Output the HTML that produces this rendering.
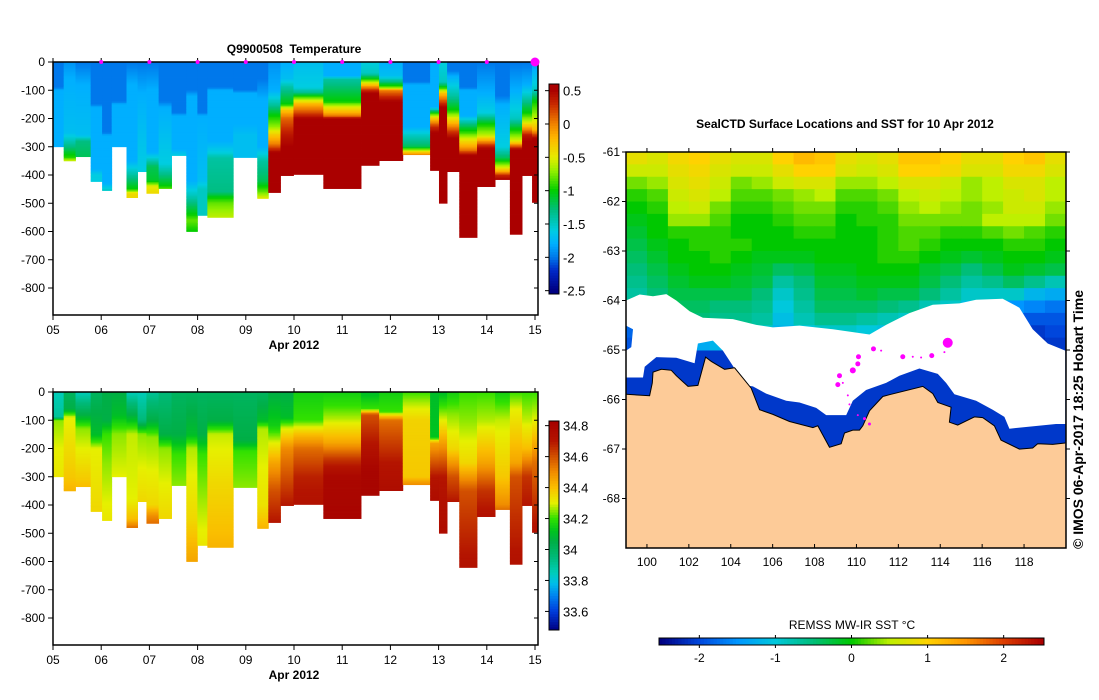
<!DOCTYPE html>
<html><head><meta charset="utf-8"><style>
html,body{margin:0;padding:0;background:#fff;}
svg{display:block;font-family:"Liberation Sans",sans-serif;}
</style></head><body>
<svg id="root" width="1099" height="700" viewBox="0 0 1099 700" xmlns="http://www.w3.org/2000/svg">
<rect width="1099" height="700" fill="#fff"/>
<g id="tempPlot"></g>
<g id="salPlot"></g>
<g id="mapPlot"></g>
</svg>
<script>
// ---------- section data ----------
const colEdges=[0,0.222,0.467,0.782,1.019,1.218,1.525,1.755,1.939,2.192,2.460,2.766,2.996,3.203,3.739,4.238,4.467,4.720,4.989,5.609,6.391,6.766,7.257,7.824,8.008,8.176,8.429,8.797,9.172,9.479,9.732,9.939,10.06];
const depthMax=[300,350,335,423,455,300,480,388,465,448,331,600,543,550,338,483,462,402,398,448,366,349,328,384,500,388,621,441,416,610,402,497];
const tempProfiles=[
[[0,-2.0],[90,-2.0],[100,-1.8],[300,-1.8]],
[[0,-1.9],[60,-1.8],[250,-1.7],[300,-1.3],[340,-0.9],[350,-0.5]],
[[0,-2.0],[80,-1.8],[260,-1.7],[280,-1.3],[335,-1.2]],
[[0,-2.0],[150,-2.0],[160,-1.8],[380,-1.8],[400,-1.6],[423,-1.6]],
[[0,-2.0],[250,-2.0],[260,-1.8],[430,-1.8],[455,-1.5]],
[[0,-2.0],[140,-2.0],[150,-1.8],[300,-1.8]],
[[0,-2.0],[80,-1.8],[350,-1.8],[400,-1.4],[450,-1.0],[465,-0.4],[480,-0.4]],
[[0,-2.0],[110,-1.8],[388,-1.6]],
[[0,-2.0],[100,-1.8],[320,-1.8],[370,-1.2],[420,-1.1],[440,-0.5],[465,-0.4]],
[[0,-2.0],[140,-2.0],[160,-1.8],[360,-1.6],[440,-1.0],[448,-0.8]],
[[0,-2.0],[180,-2.0],[190,-1.8],[310,-1.8],[331,-1.6]],
[[0,-2.0],[100,-2.0],[120,-1.8],[420,-1.8],[470,-1.5],[540,-1.0],[560,-0.8],[600,-1.0]],
[[0,-2.0],[180,-2.0],[190,-1.8],[420,-1.7],[450,-1.5],[543,-1.5]],
[[0,-2.0],[90,-2.0],[100,-1.8],[280,-1.8],[320,-1.6],[340,-1.4],[460,-1.3],[480,-1.0],[500,-0.8],[550,-0.6]],
[[0,-2.0],[100,-2.0],[110,-1.8],[220,-1.8],[260,-1.7],[338,-1.7]],
[[0,-2.0],[60,-2.0],[130,-1.8],[300,-1.8],[350,-1.4],[420,-1.2],[460,-0.8],[483,-0.5]],
[[0,-1.9],[100,-1.8],[150,-1.4],[190,-1.0],[230,-0.7],[260,-0.3],[290,0.0],[320,0.5]],
[[0,-1.8],[60,-1.7],[90,-1.4],[150,-1.0],[170,-0.3],[200,0.1],[260,0.4],[300,0.5]],
[[0,-1.7],[90,-1.6],[110,-1.3],[130,-0.7],[150,-0.2],[180,0.2],[200,0.5]],
[[0,-1.8],[50,-1.8],[60,-1.4],[140,-1.0],[160,-0.5],[190,0.0],[200,0.5]],
[[0,-1.6],[40,-1.5],[60,-1.0],[80,-0.3],[100,0.3],[110,0.5]],
[[0,-1.8],[50,-1.7],[70,-1.3],[90,-0.8],[100,0.0],[130,0.4],[140,0.5]],
[[0,-2.0],[70,-2.0],[80,-1.8],[230,-1.8],[260,-1.5],[300,-1.2],[320,-0.3],[328,0.0]],
[[0,-1.8],[160,-1.8],[180,-1.0],[200,-0.3],[230,0.3],[250,0.5]],
[[0,-1.6],[70,-1.5],[90,-1.0],[110,-0.3],[140,0.2],[160,0.5]],
[[0,-2.0],[30,-2.0],[50,-1.8],[120,-1.4],[170,-1.0],[210,-0.3],[250,0.3],[270,0.5]],
[[0,-2.0],[90,-2.0],[100,-1.8],[190,-1.8],[220,-1.3],[250,-0.9],[280,-0.4],[310,0.0],[330,0.5]],
[[0,-2.0],[110,-1.8],[180,-1.6],[220,-1.0],[260,-0.6],[280,-0.1],[300,0.4],[310,0.5]],
[[0,-2.0],[120,-2.0],[150,-1.8],[300,-1.6],[340,-1.2],[370,-0.6],[390,-0.1],[400,0.3],[416,0.5]],
[[0,-2.0],[100,-1.8],[200,-1.5],[240,-1.0],[280,-0.5],[300,0.2],[310,0.5]],
[[0,-2.0],[80,-1.8],[120,-1.5],[180,-1.0],[210,-0.6],[230,-0.2],[260,0.4],[280,0.5]],
[[0,-1.9],[100,-1.5],[140,-1.0],[200,-0.6],[240,-0.2],[270,0.5]]];
const salProfiles=[
[[0,33.85],[90,33.9],[100,34.25],[200,34.3],[300,34.32]],
[[0,34.0],[60,34.05],[90,34.3],[300,34.38],[350,34.42]],
[[0,33.85],[80,34.05],[130,34.25],[300,34.37],[335,34.4]],
[[0,34.0],[150,34.1],[200,34.3],[423,34.35]],
[[0,34.05],[100,34.05],[150,34.2],[250,34.25],[455,34.32]],
[[0,34.05],[80,34.1],[150,34.25],[300,34.3]],
[[0,33.85],[80,34.05],[150,34.28],[380,34.3],[450,34.4],[480,34.55]],
[[0,33.85],[100,33.95],[150,34.25],[388,34.35]],
[[0,33.9],[100,34.05],[160,34.25],[400,34.35],[440,34.5],[465,34.55]],
[[0,33.95],[150,34.05],[200,34.25],[448,34.35]],
[[0,34.0],[150,34.05],[220,34.2],[331,34.25]],
[[0,34.0],[150,34.1],[200,34.27],[450,34.35],[550,34.42],[600,34.45]],
[[0,34.0],[150,34.05],[220,34.2],[543,34.32]],
[[0,34.0],[100,34.05],[150,34.28],[330,34.35],[500,34.4],[550,34.42]],
[[0,34.0],[170,34.05],[210,34.2],[338,34.25]],
[[0,34.0],[100,34.1],[130,34.27],[400,34.33],[483,34.42]],
[[0,34.05],[120,34.15],[180,34.3],[250,34.45],[350,34.6],[462,34.7]],
[[0,34.05],[90,34.1],[130,34.3],[200,34.5],[300,34.6],[402,34.7]],
[[0,34.15],[100,34.2],[150,34.4],[200,34.55],[300,34.68],[398,34.72]],
[[0,34.15],[50,34.2],[100,34.28],[180,34.45],[240,34.65],[300,34.78],[448,34.8]],
[[0,34.1],[60,34.2],[80,34.6],[200,34.72],[280,34.8],[366,34.8]],
[[0,34.15],[70,34.2],[100,34.55],[250,34.7],[349,34.75]],
[[0,34.2],[40,34.27],[100,34.36],[300,34.38],[328,34.5]],
[[0,34.1],[160,34.12],[180,34.45],[300,34.7],[384,34.75]],
[[0,34.1],[100,34.3],[300,34.7],[500,34.75]],
[[0,34.15],[80,34.25],[200,34.35],[300,34.6],[388,34.7]],
[[0,34.2],[100,34.25],[250,34.35],[350,34.6],[621,34.72]],
[[0,34.2],[100,34.27],[250,34.45],[350,34.65],[441,34.72]],
[[0,34.15],[100,34.28],[300,34.38],[400,34.5],[416,34.55]],
[[0,34.2],[60,34.3],[250,34.45],[300,34.6],[610,34.72]],
[[0,34.2],[100,34.28],[200,34.4],[300,34.65],[402,34.7]],
[[0,34.2],[100,34.3],[250,34.55],[497,34.72]]];
const dayTickLabels=["05","06","07","08","09","10","11","12","13","14","15"];
const depthTicks=[0,-100,-200,-300,-400,-500,-600,-700,-800];
const surfaceDays=[1,2,3,4,5,6,7,8,9];
const tempBarTicks=[0.5,0,-0.5,-1,-1.5,-2,-2.5];
const salBarTicks=[34.8,34.6,34.4,34.2,34,33.8,33.6];
// ---------- map data ----------
const sstLats=[-61,-61.25,-61.5,-61.75,-62,-62.25,-62.5,-62.75,-63,-63.25,-63.5,-63.75,-64,-64.25,-64.5,-64.75];
const sstLons=[99,100,101,102,103,104,105,106,107,108,109,110,111,112,113,114,115,116,117,118,119];
const sstGrid=[
[0.8,0.7,0.9,1.0,0.8,0.7,0.7,1.0,1.2,1.1,0.8,0.7,0.8,1.1,1.1,1.0,0.8,0.8,1.0,1.1,0.8],
[0.6,0.6,0.8,0.9,0.7,0.6,0.6,0.8,1.0,1.0,0.7,0.6,0.7,1.0,1.0,0.9,0.7,0.7,0.9,0.9,0.7],
[0.3,0.4,0.7,0.8,0.6,0.3,0.4,0.6,0.7,0.7,0.4,0.4,0.5,0.7,0.7,0.6,0.4,0.5,0.7,0.7,0.5],
[0.1,0.2,0.6,0.7,0.5,0.2,0.2,0.3,0.4,0.5,0.2,0.2,0.3,0.5,0.6,0.5,0.4,0.5,0.6,0.7,0.5],
[0.0,0.1,0.5,0.6,0.3,0.1,0.1,0.2,0.3,0.3,0.1,0.1,0.2,0.4,0.5,0.4,0.3,0.4,0.6,0.6,0.4],
[-0.1,0.0,0.4,0.4,0.2,0.0,0.0,0.1,0.2,0.2,0.0,0.1,0.1,0.3,0.3,0.3,0.3,0.5,0.5,0.5,0.3],
[-0.2,0.0,0.1,0.1,0.1,0.0,0.0,0.0,0.1,0.1,0.0,0.0,0.1,0.2,0.2,0.1,0.1,0.2,0.3,0.2,0.1],
[-0.3,-0.1,0.0,0.1,0.1,0.1,0.0,0.0,0.0,0.0,0.0,0.0,0.1,0.2,0.1,0.0,0.0,0.0,0.1,0.1,0.0],
[-0.4,-0.2,0.0,0.0,0.1,0.0,-0.1,-0.1,-0.1,0.0,0.0,0.0,0.1,0.1,0.0,-0.1,-0.2,-0.1,0.0,0.0,-0.1],
[-0.5,-0.3,-0.1,0.0,0.0,-0.1,-0.2,-0.4,-0.3,-0.1,-0.1,0.0,0.0,0.0,-0.2,-0.3,-0.5,-0.3,-0.1,-0.2,-0.3],
[-0.6,-0.4,-0.2,-0.1,-0.1,-0.2,-0.3,-0.7,-0.5,-0.2,-0.2,-0.1,-0.1,-0.1,-0.3,-0.5,-0.7,-0.6,-0.4,-0.6,-0.8],
[-0.7,-0.5,-0.3,-0.3,-0.3,-0.3,-0.5,-0.9,-0.6,-0.3,-0.3,-0.2,-0.3,-0.3,-0.5,-0.7,-0.9,-0.9,-0.9,-1.2,-1.3],
[-0.8,-0.6,-0.4,-0.4,-0.5,-0.5,-0.6,-1.0,-0.7,-0.4,-0.4,-0.4,-0.5,-0.6,-0.8,-0.9,-1.1,-1.3,-1.5,-1.6,-1.7],
[-1.3,-0.9,-0.6,-0.5,-0.6,-0.6,-0.7,-1.1,-0.8,-0.6,-0.6,-0.7,-0.8,-0.9,-1.0,-1.2,-1.5,-1.7,-1.8,-1.9,-1.9],
[-1.8,-1.5,-1.0,-0.8,-0.8,-0.8,-0.9,-1.2,-1.0,-0.9,-0.9,-1.0,-1.1,-1.2,-1.3,-1.5,-1.8,-1.9,-2.0,-2.1,-2.0],
[-1.9,-1.8,-1.5,-1.3,-1.2,-1.2,-1.3,-1.4,-1.3,-1.2,-1.2,-1.3,-1.5,-1.6,-1.7,-1.8,-2.0,-2.1,-2.1,-2.2,-2.1]];
const polynyaSST=-2.1;
const lonTicks=[100,102,104,106,108,110,112,114,116,118];
const latTicks=[-61,-62,-63,-64,-65,-66,-67,-68];
const sstBarTicks=[-2,-1,0,1,2];
const coastRef=[[79,822],[150,826],[158,790],[160,760],[185,752],[215,755],[230,770],[265,800],[295,797],[318,718],[335,730],[375,752],[405,748],[455,805],[480,865],[520,878],[570,898],[640,915],[655,910],[690,970],[725,960],[735,930],[760,922],[780,922],[790,910],[810,868],[850,828],[870,823],[970,800],[1000,820],[1015,845],[1055,858],[1050,900],[1075,908],[1125,885],[1150,887],[1185,910],[1205,950],[1260,975],[1300,972],[1315,960],[1360,962],[1398,958]];
const iceRef=[[79,560],[120,543],[160,548],[200,542],[230,560],[270,590],[310,608],[400,612],[470,628],[520,635],[600,630],[700,640],[810,655],[860,628],[930,595],[1000,572],[1080,568],[1130,558],[1210,555],[1260,580],[1300,640],[1345,680],[1398,700],[1398,905],[1370,905],[1230,918],[1215,885],[1180,865],[1130,840],[1065,822],[1040,790],[1015,765],[960,750],[900,770],[860,790],[800,810],[760,840],[740,880],[680,880],[650,860],[600,845],[560,840],[500,820],[460,800],[420,795],[405,750],[370,700],[340,672],[295,680],[285,735],[230,720],[170,718],[135,745],[130,775],[79,775],[79,700],[95,690],[100,640],[79,630]];
const trackRef=[[1045,678],[822,695],[777,717],[775,737],[760,755],[720,770],[715,795],[910,717],[997,714],[940,717],[965,719],[1035,704],[845,700],[730,790],[745,825],[750,850],[775,880],[795,890],[810,905]];
const trackSize=[5,2.5,2.5,2.5,3,2.5,2.5,2.5,2.5,1,1,1,1,1,1,1,1,1.5,1.5];

// ---------- helpers ----------
const NS="http://www.w3.org/2000/svg";
function mk(tag,parent,attrs){const e=document.createElementNS(NS,tag);for(const k in attrs)e.setAttribute(k,attrs[k]);parent.appendChild(e);return e;}
function interp(knots,d){if(d<=knots[0][0])return knots[0][1];for(let i=1;i<knots.length;i++){if(d<=knots[i][0]){const a=knots[i-1],b=knots[i];return a[1]+(b[1]-a[1])*(d-a[0])/(b[0]-a[0]);}}return knots[knots.length-1][1];}
function colorOf(stops,v){if(v<=stops[0][0])return rgb(stops[0][1]);for(let i=1;i<stops.length;i++){if(v<=stops[i][0]){const a=stops[i-1],b=stops[i],t=(v-a[0])/(b[0]-a[0]);return rgb(a[1].map((c,j)=>c+(b[1][j]-c)*t));}}return rgb(stops[stops.length-1][1]);}
function rgb(c){return "rgb("+c.map(x=>Math.round(x)).join(",")+")";}
const tStops=[[-2.5,[0,0,130]],[-2.2,[0,40,200]],[-2.0,[0,120,235]],[-1.8,[0,175,255]],[-1.6,[0,205,225]],[-1.3,[0,190,130]],[-1.0,[0,205,0]],[-0.7,[150,240,0]],[-0.5,[230,235,0]],[-0.2,[255,180,0]],[0,[240,130,0]],[0.3,[200,40,0]],[0.5,[170,0,0]]];
const sStops=[[33.48,[0,0,130]],[33.6,[0,60,220]],[33.7,[0,130,240]],[33.78,[0,190,235]],[33.85,[0,205,185]],[33.95,[0,185,120]],[34.05,[0,175,70]],[34.12,[0,195,30]],[34.2,[50,225,0]],[34.3,[230,240,0]],[34.4,[250,190,0]],[34.5,[240,140,0]],[34.6,[210,80,0]],[34.7,[180,20,0]],[34.83,[165,0,0]]];
const mStops=[[-2.5,[0,0,130]],[-2.0,[0,70,220]],[-1.5,[0,150,255]],[-1.0,[0,200,220]],[-0.5,[0,190,120]],[0,[0,200,0]],[0.5,[190,240,0]],[1.0,[255,210,0]],[1.5,[255,150,0]],[2.0,[220,60,0]],[2.5,[170,0,0]]];

function section(g,y0,profiles,stops,barTop,barBot,barMax,barMin,barTicks,title){
  const L=53,R=538,B=y0+253;
  const xS=d=>L+d*48.2, yS=dep=>y0+dep*0.2825;
  const cells=mk('g',g,{});
  
  
  for(let i=0;i<profiles.length;i++){
    const x0=xS(colEdges[i]),x1=xS(colEdges[i+1]);
    for(let d=0;d<depthMax[i];d+=5){
      const h=Math.min(5,depthMax[i]-d);
      const r=mk('rect',cells,{x:x0,y:yS(d),width:x1-x0+0.4,height:h*0.2825+0.4,fill:colorOf(stops,interp(profiles[i],d+h/2))});
      
      
    }
  }
  const fr=mk('rect',g,{x:L,y:y0,width:R-L,height:B-y0,fill:'none',stroke:'#000','stroke-width':1.5});
  
  
  depthTicks.forEach(t=>{const y=yS(-t);
    mk('line',g,{x1:L-5,x2:L,y1:y,y2:y,stroke:'#000'});
    mk('line',g,{x1:R,x2:R-4,y1:y,y2:y,stroke:'#000'});
    const tx=mk('text',g,{x:L-8,y:y+4,'text-anchor':'end','font-size':12});tx.textContent=t;
    
    });
  dayTickLabels.forEach((lab,i)=>{const x=xS(i);
    mk('line',g,{x1:x,x2:x,y1:B,y2:B+5,stroke:'#000'});
    mk('line',g,{x1:x,x2:x,y1:y0,y2:y0-4,stroke:'#000'});
    const tx=mk('text',g,{x:x,y:B+19,'text-anchor':'middle','font-size':12});tx.textContent=lab;
    
    });
  const xl=mk('text',g,{x:294,y:B+34,'text-anchor':'middle','font-size':12,'font-weight':'bold'});xl.textContent='Apr 2012';
  
  
  if(title){const tt=mk('text',g,{x:294,y:y0-9,'text-anchor':'middle','font-size':12,'font-weight':'bold'});tt.textContent=title;
    
    
    surfaceDays.forEach(d=>{const c=mk('circle',g,{cx:xS(d),cy:y0,r:2,fill:'#f0f'});
      
      });
    const c=mk('circle',g,{cx:xS(10),cy:y0,r:4.5,fill:'#f0f'});
    
    }
  const cb=mk('g',g,{});
  
  
  const bx=549,bw=10,n=80;
  const yv=v=>barTop+(barMax-v)/(barMax-barMin)*(barBot-barTop);
  for(let k=0;k<n;k++){const v0=barMax-(barMax-barMin)*k/n,v1=barMax-(barMax-barMin)*(k+1)/n;
    mk('rect',cb,{x:bx,y:yv(v0),width:bw,height:yv(v1)-yv(v0)+0.5,fill:colorOf(stops,(v0+v1)/2)});}
  mk('rect',cb,{x:bx,y:barTop,width:bw,height:barBot-barTop,fill:'none',stroke:'#000'});
  barTicks.forEach(t=>{const y=yv(t);
    mk('line',cb,{x1:bx-4,x2:bx,y1:y,y2:y,stroke:'#000'});
    const tx=mk('text',cb,{x:bx+14,y:y+5,'font-size':13});tx.textContent=t;
    
    });
}
section(document.getElementById('tempPlot'),62,tempProfiles,tStops,84,294,0.6,-2.55,tempBarTicks,'Q9900508\u00a0\u00a0Temperature');
section(document.getElementById('salPlot'),392,salProfiles,sStops,421,630,34.83,33.48,salBarTicks,null);

// ---------- map ----------
(function(){
  const g=document.getElementById('mapPlot');
  const L=626,R=1066,T=152,B=548;
  const mx=lon=>L+(lon-99)*20.95, my=lat=>T+(-61-lat)*49.5;
  const fromRef=p=>[99+(p[0]-79)/62.9,-61-(p[1]-145)/138.3];
  const clip=mk('clipPath',g,{id:'mapclip'});mk('rect',clip,{x:L,y:T,width:R-L,height:B-T});
  const inner=mk('g',g,{'clip-path':'url(#mapclip)'});
  const bg=mk('rect',inner,{x:L,y:T,width:R-L,height:B-T,fill:colorOf(mStops,polynyaSST)});
  
  
  sstGrid.forEach((row,i)=>row.forEach((v,j)=>{
    const r=mk('rect',inner,{x:mx(sstLons[j]),y:my(sstLats[i]),width:20.95+0.5,height:0.25*49.5+0.5,fill:colorOf(mStops,v)});
    
    }));
  const pts=a=>a.map(p=>{const q=fromRef(p);return mx(q[0]).toFixed(1)+','+my(q[1]).toFixed(1);}).join(' ');
  const ice=mk('polygon',inner,{points:pts(iceRef),fill:'#fff'});
  
  
  const landPts=pts(coastRef)+' '+R+','+B+' '+L+','+B;
  const land=mk('polygon',inner,{points:landPts,fill:'#fdcb98'});
  
  
  const cl=mk('polyline',inner,{points:pts(coastRef),fill:'none',stroke:'#000','stroke-width':1});
  
  
  trackRef.forEach((p,i)=>{const q=fromRef(p);
    const c=mk('circle',inner,{cx:mx(q[0]),cy:my(q[1]),r:trackSize[i],fill:'#f0f'});
    
    });
  const fr=mk('rect',g,{x:L,y:T,width:R-L,height:B-T,fill:'none',stroke:'#000','stroke-width':1.5});
  
  
  lonTicks.forEach(t=>{const x=mx(t);
    mk('line',g,{x1:x,x2:x,y1:B,y2:B-4,stroke:'#000'});
    mk('line',g,{x1:x,x2:x,y1:T,y2:T-4,stroke:'#000'});
    const tx=mk('text',g,{x:x,y:B+18,'text-anchor':'middle','font-size':12});tx.textContent=t;
    
    });
  latTicks.forEach(t=>{const y=my(t);
    mk('line',g,{x1:L-4,x2:L,y1:y,y2:y,stroke:'#000'});
    mk('line',g,{x1:R,x2:R+4,y1:y,y2:y,stroke:'#000'});
    const tx=mk('text',g,{x:L-6,y:y+4,'text-anchor':'end','font-size':12});tx.textContent=t;
    
    });
  const tt=mk('text',g,{x:845,y:128,'text-anchor':'middle','font-size':12,'font-weight':'bold'});tt.textContent='SealCTD Surface Locations and SST for 10 Apr 2012';
  
  
  const cr=mk('text',g,{x:0,y:0,transform:'translate(1083,549) rotate(-90)','font-size':14,'font-weight':'bold'});cr.textContent='© IMOS 06-Apr-2017 18:25 Hobart Time';
  
  
  const cb=mk('g',g,{});
  
  
  const bx0=659,bx1=1044,by=638,bh=7,vmin=-2.53,vmax=2.53;
  const xv=v=>bx0+(v-vmin)/(vmax-vmin)*(bx1-bx0);
  const n=120;
  for(let k=0;k<n;k++){const v0=vmin+(vmax-vmin)*k/n,v1=vmin+(vmax-vmin)*(k+1)/n;
    mk('rect',cb,{x:xv(v0),y:by,width:xv(v1)-xv(v0)+0.5,height:bh,fill:colorOf(mStops,(v0+v1)/2)});}
  mk('rect',cb,{x:bx0,y:by,width:bx1-bx0,height:bh,fill:'none',stroke:'#000'});
  sstBarTicks.forEach(t=>{const x=xv(t);
    mk('line',cb,{x1:x,x2:x,y1:by-3,y2:by,stroke:'#000'});
    mk('line',cb,{x1:x,x2:x,y1:by+bh,y2:by+bh+3,stroke:'#000'});
    const tx=mk('text',cb,{x:x,y:by+24,'text-anchor':'middle','font-size':12});tx.textContent=t;
    
    });
  const ct=mk('text',cb,{x:852,y:629,'text-anchor':'middle','font-size':12});ct.textContent='REMSS MW-IR SST °C';
  
  
})();
</script>
</body></html>
